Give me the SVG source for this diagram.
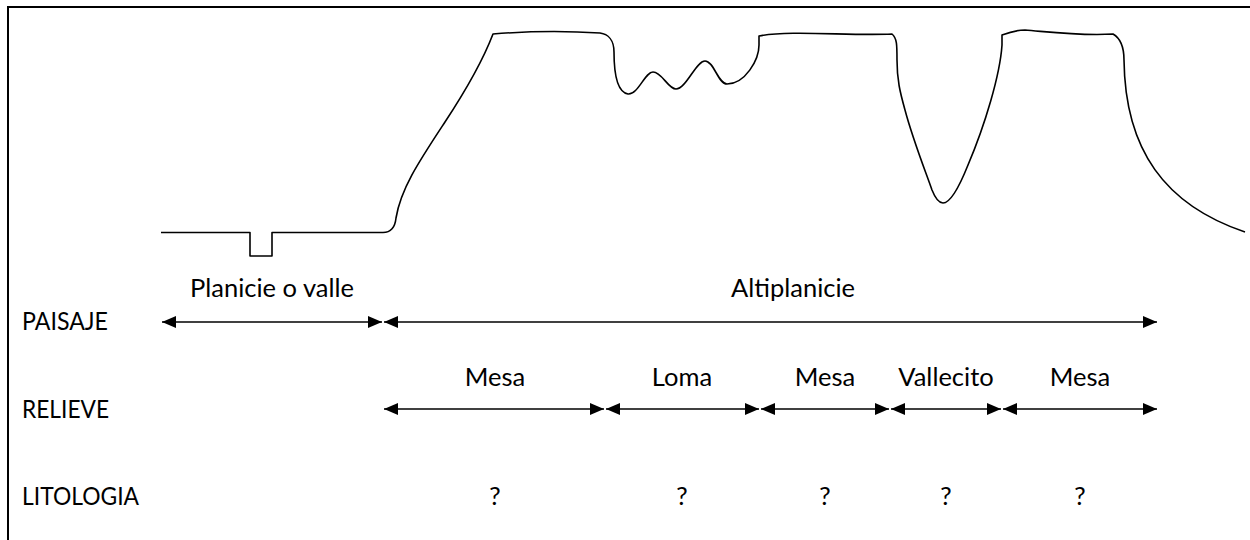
<svg xmlns="http://www.w3.org/2000/svg" width="1250" height="540" viewBox="0 0 1250 540">
  <style>
    .frame { fill: none; stroke: #000; stroke-width: 2; }
    .profile { fill: none; stroke: #000; stroke-width: 1.6; stroke-linejoin: round; }
    .span { stroke: #000; stroke-width: 1.5; marker-start: url(#head); marker-end: url(#head); }
    text { font-family: Lato, "Liberation Sans", sans-serif; font-size: 25.5px; fill: #000; }
    .mid { text-anchor: middle; }
  </style>
  <defs>
    <marker id="head" markerUnits="userSpaceOnUse" markerWidth="15" markerHeight="13" refX="14" refY="6" orient="auto-start-reverse">
      <path d="M0,0 L14,6 L0,12 z" fill="#000"/>
    </marker>
  </defs>

  <rect width="1250" height="540" fill="#fff"/>

  <!-- outer frame: top and left edges -->
  <path class="frame" d="M8,540 V7 H1250"/>

  <!-- terrain cross-section -->
  <g id="profile">
    <path class="profile" d="M161,232.5 H250 V256 H272 V232.5 H383
      C390,232.5 395,228 396,218
      C401,188 420,160 445,122 S485,55 493,34
      C530,31 570,31 600,33
      C608,34 614,40 614,52
      C614,75 617,92 628,94
      C638,95 645,72 653,72
      C662,72 668,89 676,89
      C686,89 696,61 705,61
      C714,61 718,84 727,84
      C745,84 759,60 759,45 L759,36
      C790,30 850,36 892,34
      C897,38 897,45 897,60
      C897,80 900,92 905,110
      C913,140 925,170 932,190
      C936,200 940,203 943,203
      C950,203 958,190 968,165
      C985,125 1000,75 1002,45 L1002,35
      C1010,32 1018,30 1025,30
      C1050,32 1080,36 1113,34
      C1120,38 1124,45 1124,60
      C1125,150 1165,205 1245,232"/>
  </g>

  <!-- row labels -->
  <g id="row-paisaje"><text x="22" y="330" textLength="86" lengthAdjust="spacingAndGlyphs">PAISAJE</text></g>
  <g id="row-relieve"><text x="22" y="418" textLength="87" lengthAdjust="spacingAndGlyphs">RELIEVE</text></g>
  <g id="row-litologia"><text x="22" y="505" textLength="117" lengthAdjust="spacingAndGlyphs">LITOLOGIA</text></g>

  <!-- landscape units -->
  <g id="planicie"><text class="mid" x="272" y="297">Planicie o valle</text></g>
  <g id="altiplanicie"><text class="mid" x="793" y="297">Altiplanicie</text></g>

  <!-- relief units with their lithology -->
  <g id="mesa-1"><text class="mid" x="495" y="386">Mesa</text><text class="mid" x="495" y="505">?</text></g>
  <g id="loma"><text class="mid" x="682" y="386">Loma</text><text class="mid" x="682" y="505">?</text></g>
  <g id="mesa-2"><text class="mid" x="825" y="386">Mesa</text><text class="mid" x="825" y="505">?</text></g>
  <g id="vallecito"><text class="mid" x="946" y="386">Vallecito</text><text class="mid" x="946" y="505">?</text></g>
  <g id="mesa-3"><text class="mid" x="1080" y="386">Mesa</text><text class="mid" x="1080" y="505">?</text></g>

  <!-- extent arrows -->
  <g id="connectors">
    <line class="span" x1="162" y1="322" x2="382" y2="322"/>
    <line class="span" x1="384" y1="322" x2="1157" y2="322"/>
    <line class="span" x1="384" y1="409" x2="604" y2="409"/>
    <line class="span" x1="606" y1="409" x2="759" y2="409"/>
    <line class="span" x1="761" y1="409" x2="889" y2="409"/>
    <line class="span" x1="891" y1="409" x2="1001" y2="409"/>
    <line class="span" x1="1003" y1="409" x2="1157" y2="409"/>
  </g>
</svg>
